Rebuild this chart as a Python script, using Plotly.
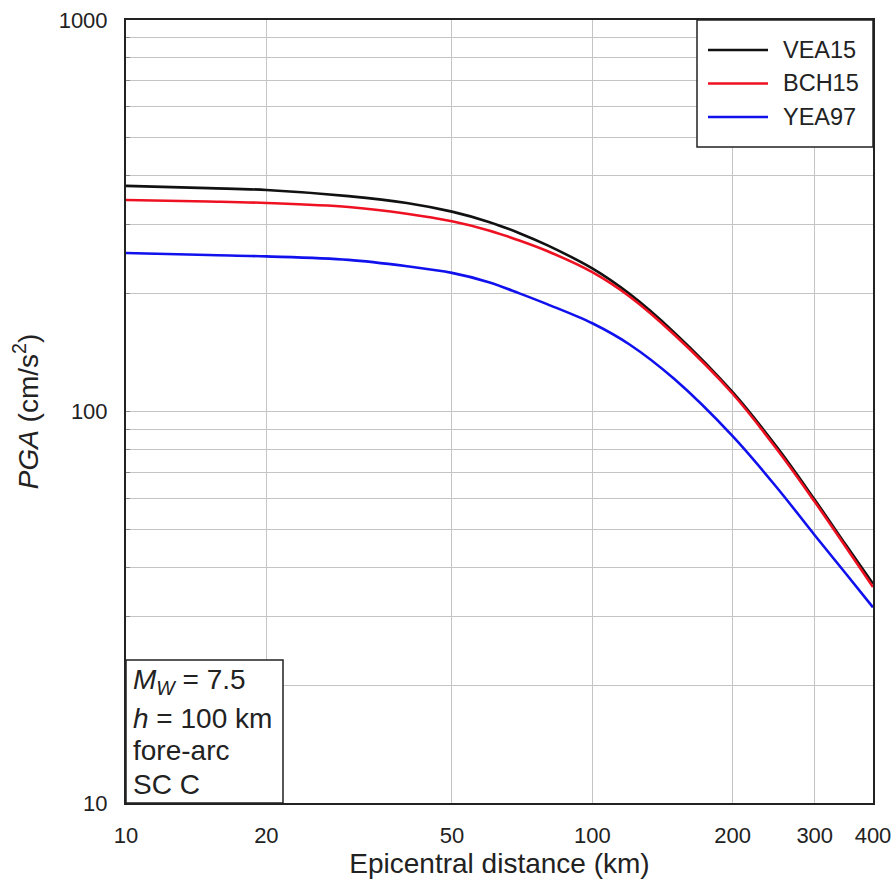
import plotly.graph_objects as go

distance_km = [10, 15, 20, 30, 40, 50, 60, 70, 80, 100, 120, 150, 200, 250, 300, 350, 400]
pga_vea15 = [377, 372, 368, 355, 341, 324, 305, 285, 266, 232, 200, 159, 112, 80.5, 59.5, 45.6, 36.3]
pga_bch15 = [347, 344, 341, 333, 320, 306, 290, 273, 257, 227, 197, 157, 111, 79.5, 58.8, 45.0, 35.6]
pga_yea97 = [254, 251, 249, 244, 235, 226, 214, 200, 188, 168, 148.5, 121, 86.5, 63.5, 48.3, 38.5, 31.6]

series_names = ["VEA15", "BCH15", "YEA97"]
series_colors = ["#111111", "#ee1122", "#1111ee"]

x_ticks = [10, 20, 50, 100, 200, 300, 400]
y_ticks = [10, 100, 1000]
y_minor = [m * 10 ** e for e in (1, 2) for m in range(2, 10)]

info_lines = ["<i>M</i><sub><i>W</i></sub> = 7.5", "<i>h</i> = 100 km", "fore-arc", "SC C"]

FONT = "Liberation Sans, Arial, sans-serif"
TXT = "#222222"
GRID = "#c4c4c4"

fig = go.Figure()
for name, vals, col in zip(series_names, [pga_vea15, pga_bch15, pga_yea97], series_colors):
    fig.add_trace(go.Scatter(x=distance_km, y=vals, mode="lines", name=name, showlegend=False,
                             line=dict(color=col, width=2.6, shape="spline", smoothing=1.0)))

fig.update_layout(
    width=893, height=882,
    margin=dict(l=126, r=20, t=20, b=79, autoexpand=False),
    plot_bgcolor="white", paper_bgcolor="white",
    font=dict(family=FONT, color=TXT),
    showlegend=False,
)
fig.update_xaxes(type="log", range=[1, 2.60206], tickvals=x_ticks,
                 ticktext=[str(v) for v in x_ticks], automargin=False,
                 showgrid=True, gridcolor=GRID, gridwidth=1,
                 showline=True, linecolor="#222222", linewidth=2, mirror=True,
                 ticks="", ticklabelstandoff=12, tickfont=dict(size=22, color=TXT),
                 title=dict(text="Epicentral distance (km)", font=dict(size=28, color=TXT), standoff=6),
                 zeroline=False)
fig.update_yaxes(type="log", range=[1, 3], tickvals=y_ticks, ticktext=[str(v) for v in y_ticks],
                 automargin=False,
                 showgrid=True, gridcolor=GRID, gridwidth=1,
                 minor=dict(tickvals=y_minor, showgrid=True, gridcolor=GRID, gridwidth=1,
                            ticks="inside", ticklen=4, tickcolor="#888888"),
                 showline=True, linecolor="#222222", linewidth=2, mirror=True,
                 ticks="inside", ticklen=4, tickcolor="#888888", ticklabelstandoff=12,
                 tickfont=dict(size=22, color=TXT),
                 title=dict(text="<i>PGA</i> (cm/s<sup>2</sup>)", font=dict(size=28, color=TXT), standoff=12),
                 zeroline=False)

plot_w = 893 - 126 - 20
plot_h = 882 - 20 - 79


def px_x(px):
    return (px - 126) / plot_w


def px_y(py):
    return (803 - py) / plot_h


# legend box (framed key in the upper-right corner)
fig.add_shape(type="rect", xref="paper", yref="paper", x0=px_x(697), x1=1, y0=px_y(147), y1=1,
              line=dict(color="#222222", width=1.5), fillcolor="white", layer="above")
for i, (name, col) in enumerate(zip(series_names, series_colors)):
    yc = px_y(50 + 33.5 * i)
    fig.add_shape(type="line", xref="paper", yref="paper", x0=px_x(708), x1=px_x(768), y0=yc, y1=yc,
                  line=dict(color=col, width=2.6), layer="above")
    fig.add_annotation(xref="paper", yref="paper", x=px_x(781), y=yc, xanchor="left", yanchor="middle",
                       showarrow=False, text=name, font=dict(size=23.5, color=TXT, family=FONT))

# info box (lower-left)
fig.add_shape(type="rect", xref="paper", yref="paper", x0=0, x1=px_x(283), y0=0, y1=px_y(660),
              line=dict(color="#222222", width=1.5), fillcolor="white", layer="above")
line_centers_px = [681, 718, 750, 784]
for txt, yc in zip(info_lines, line_centers_px):
    fig.add_annotation(xref="paper", yref="paper", x=px_x(131), y=px_y(yc),
                       xanchor="left", yanchor="middle", align="left", showarrow=False,
                       text=txt, font=dict(size=28, color=TXT, family=FONT))

fig.write_html("out.html")
